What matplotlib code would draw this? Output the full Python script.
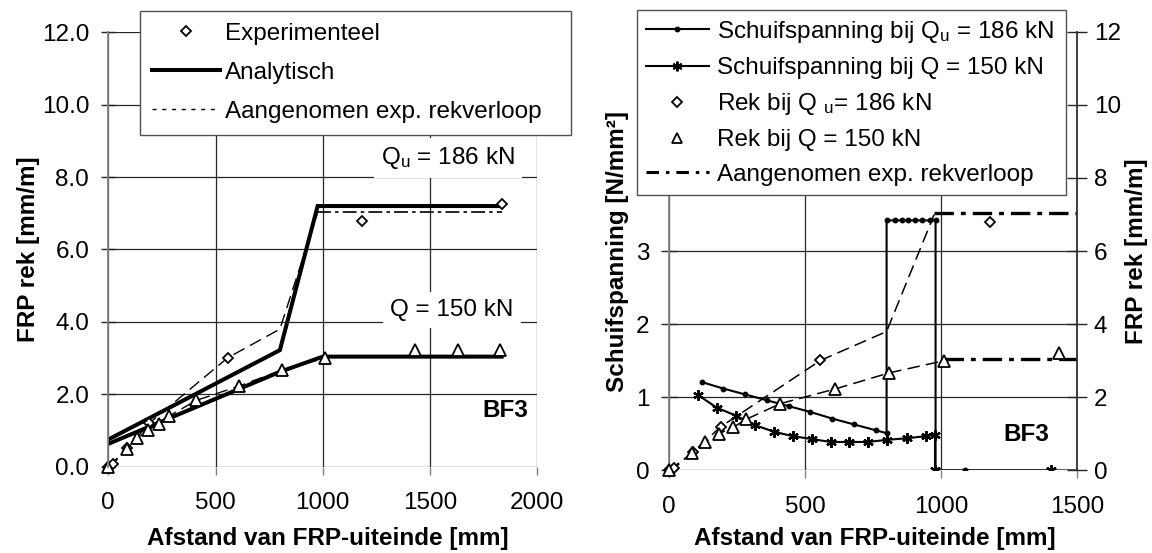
import matplotlib
matplotlib.use('Agg')
import matplotlib.pyplot as plt
from matplotlib.lines import Line2D
import numpy as np

plt.rcParams['font.family'] = ['Liberation Sans', 'DejaVu Sans']
plt.rcParams['mathtext.fontset'] = 'custom'
plt.rcParams['mathtext.rm'] = 'Liberation Sans'
plt.rcParams['mathtext.it'] = 'Liberation Sans:italic'
plt.rcParams['font.size'] = 17.5
plt.rcParams['lines.scale_dashes'] = False

# experimental strain (mm/m) vs distance from FRP end (mm)
x_exp_qu = [0, 20, 89, 191, 557, 1181, 1834]
y_exp_qu = [0.0, 0.07, 0.51, 1.2, 3.01, 6.8, 7.26]
x_exp_q = [0, 85, 133, 184, 236, 284, 410, 611, 810, 1010, 1432, 1632, 1826]
y_exp_q = [0.0, 0.48, 0.78, 1.01, 1.18, 1.4, 1.83, 2.23, 2.67, 3.0, 3.22, 3.22, 3.22]

# analytical strain
x_ana_qu = [0, 800, 976, 1834]
y_ana_qu = [0.75, 3.22, 7.2, 7.2]
x_ana_q = [0, 800, 1000, 1834]
y_ana_q = [0.63, 2.62, 3.04, 3.04]

# assumed experimental strain course
x_aang_qu = [0, 20, 89, 191, 557, 800, 975]
y_aang_qu = [0.0, 0.07, 0.51, 1.2, 3.01, 3.8, 7.0]
x_aang_qu_flat = [975, 1834]
y_aang_qu_flat = [7.03, 7.03]
x_aang_q = [0, 85, 133, 184, 236, 284, 410, 611, 810, 1010]
y_aang_q = [0.0, 0.48, 0.78, 1.01, 1.18, 1.4, 1.83, 2.23, 2.67, 3.0]
x_aang_q_flat = [1010, 1834]
y_aang_q_flat = [3.06, 3.06]

# shear stress (N/mm2)
x_tau_qu = [120, 200, 280, 360, 440, 520, 600, 680, 760, 800,
            800, 830, 855, 880, 905, 930, 958, 980, 980, 1090, 1700]
y_tau_qu = [1.21, 1.12, 1.04, 0.96, 0.88, 0.80, 0.71, 0.63, 0.55, 0.51,
            3.42, 3.42, 3.42, 3.42, 3.42, 3.42, 3.42, 3.42, 0.0, 0.0, 0.0]
x_tau_q = [108, 175, 246, 316, 386, 455, 525, 594, 663, 733, 803, 874, 945, 978, 978, 1403]
y_tau_q = [1.03, 0.86, 0.75, 0.62, 0.53, 0.47, 0.43, 0.39, 0.39, 0.39, 0.42, 0.44, 0.47, 0.49, 0.0, 0.0]

left_yticks = [0, 2, 4, 6, 8, 10, 12]
left_xticks = [0, 500, 1000, 1500, 2000]
right_xticks = [0, 500, 1000, 1500]
tau_ticks = [0, 1, 2, 3]
rek_ticks = [0, 2, 4, 6, 8, 10, 12]

grid_c = '#262626'
spine_c = '#808080'
thin_dash = (0, (9, 4.5))
flat_dash = (0, (10, 3, 2.5, 3))
thick_dashdot = (0, (14, 5, 3.5, 5))

fig = plt.figure(figsize=(11.52, 5.53), dpi=100)

# ---------------- left panel ----------------
ax1 = fig.add_axes([0.0940, 0.1561, 0.3724, 0.7855])
ax1.set_xlim(0, 2000)
ax1.set_ylim(0, 12)
ax1.set_xticks(left_xticks)
ax1.set_yticks(left_yticks)
ax1.set_yticklabels(['%.1f' % v for v in left_yticks])
ax1.grid(True, color=grid_c, lw=0.9)
ax1.set_axisbelow(True)
for s in ['top', 'right', 'bottom']:
    ax1.spines[s].set_visible(False)
ax1.spines['left'].set_color(spine_c)
ax1.spines['left'].set_linewidth(1.3)
ax1.tick_params(axis='y', direction='inout', length=9.5, width=1, color=grid_c, pad=9)
ax1.tick_params(axis='x', direction='out', length=5.5, width=1, color=spine_c, pad=13)

ax1.plot(x_aang_qu, y_aang_qu, color='k', lw=1.0, ls=thin_dash)
ax1.plot(x_aang_q, y_aang_q, color='k', lw=1.0, ls=thin_dash)
ax1.plot(x_aang_qu_flat, y_aang_qu_flat, color='k', lw=1.2, ls=flat_dash)
ax1.plot(x_aang_q_flat, y_aang_q_flat, color='k', lw=1.2, ls=flat_dash)
ax1.plot(x_ana_qu, y_ana_qu, color='k', lw=2.9, solid_joinstyle='miter')
ax1.plot(x_ana_q, y_ana_q, color='k', lw=2.9, solid_joinstyle='miter')
ax1.plot(x_exp_qu, y_exp_qu, ls='none', marker='D', ms=5.5, mfc='white', mec='k', mew=1.3, clip_on=False)
ax1.plot(x_exp_q, y_exp_q, ls='none', marker='^', ms=9, mfc='white', mec='k', mew=1.3, clip_on=False)

box = dict(facecolor='white', edgecolor='none', pad=5)
ax1.text(1584, 8.53, 'Q$_\\mathrm{u}$ = 186 kN', ha='center', va='center', bbox=box)
ax1.text(1603, 4.33, 'Q = 150 kN', ha='center', va='center', bbox=box)
ax1.text(1853, 1.54, 'BF3', ha='center', va='center', fontweight='bold')

ax1.set_xlabel('Afstand van FRP-uiteinde [mm]', fontweight='bold')
ax1.set_ylabel('FRP rek [mm/m]', fontweight='bold')
ax1.xaxis.set_label_coords(0.512, -0.139)
ax1.yaxis.set_label_coords(-0.159, 0.5)

h1 = [Line2D([], [], ls='none', marker='D', ms=5, mfc='white', mec='k', mew=1.3),
      Line2D([], [], color='k', lw=2.9),
      Line2D([], [], color='k', lw=1.0, ls=(0, (3, 4)))]
lab1 = ['Experimenteel', 'Analytisch', 'Aangenomen exp. rekverloop']
leg1 = ax1.legend(h1, lab1, loc='upper left', bbox_to_anchor=(0.1215, 0.765, 0.3742, 0.2157),
                  bbox_transform=fig.transFigure, mode='expand', borderaxespad=0,
                  fancybox=False, framealpha=1, edgecolor='#505050', handlelength=2.8,
                  handletextpad=0.2, labelspacing=0.7, borderpad=0.5)
leg1.get_frame().set_linewidth(1.0)
leg1.set_zorder(10)

# ---------------- right panel ----------------
ax2 = fig.add_axes([0.5807, 0.1492, 0.3542, 0.7935])
ax3 = ax2.twinx()
ax2.set_xlim(0, 1500)
ax2.set_ylim(0, 6)
ax3.set_ylim(0, 12)
ax2.set_xticks(right_xticks)
ax2.set_yticks(tau_ticks)
ax3.set_yticks(rek_ticks)
ax2.grid(True, color=grid_c, lw=0.9)
ax2.set_axisbelow(True)
for a in [ax2, ax3]:
    for s in ['top', 'bottom']:
        a.spines[s].set_visible(False)
ax2.spines['right'].set_visible(False)
ax3.spines['left'].set_visible(False)
ax2.spines['left'].set_color(spine_c)
ax2.spines['left'].set_linewidth(1.3)
ax3.spines['right'].set_color('#303030')
ax3.spines['right'].set_linewidth(1.3)
ax2.tick_params(axis='y', direction='inout', length=11.5, width=1, color=grid_c, pad=8.4)
ax2.tick_params(axis='x', direction='out', length=5.5, width=1, color=spine_c, pad=13)
ax3.tick_params(axis='y', direction='inout', length=14.5, width=1, color=grid_c, pad=4.8)

ax2.plot(x_tau_qu, y_tau_qu, color='k', lw=1.5, marker='o', ms=3.2)
ax2.plot(x_tau_q, y_tau_q, color='k', lw=1.5, marker=(6, 2, 0), ms=7.5, mew=1.6)

ax3.plot(x_aang_qu, y_aang_qu, color='k', lw=1.1, ls=thin_dash)
ax3.plot(x_aang_q, y_aang_q, color='k', lw=1.1, ls=thin_dash)
ax3.plot(x_aang_qu_flat, y_aang_qu_flat, color='k', lw=2.4, ls=thick_dashdot)
ax3.plot(x_aang_q_flat, y_aang_q_flat, color='k', lw=2.4, ls=thick_dashdot)

xq = np.array(x_exp_qu)
yq = np.array(y_exp_qu)
xs = np.array(x_exp_q)
ys = np.array(y_exp_q)
mq = xq <= 1500
ms_ = xs <= 1500
ax3.plot(xq[mq], yq[mq], ls='none', marker='D', ms=5.5, mfc='white', mec='k', mew=1.3, clip_on=False)
ax3.plot(xs[ms_], ys[ms_], ls='none', marker='^', ms=9, mfc='white', mec='k', mew=1.3, clip_on=False)

ax2.text(1315, 0.49, 'BF3', ha='center', va='center', fontweight='bold')

ax2.set_xlabel('Afstand van FRP-uiteinde [mm]', fontweight='bold')
ax2.set_ylabel('Schuifspanning [N/mm²]', fontweight='bold')
ax3.set_ylabel('FRP rek [mm/m]', fontweight='bold')
ax2.xaxis.set_label_coords(0.505, -0.129)
ax2.yaxis.set_label_coords(-0.098, 0.5)
ax3.yaxis.set_label_coords(1.118, 0.5)

h2 = [Line2D([], [], color='k', lw=1.5, marker='o', ms=3.2),
      Line2D([], [], color='k', lw=1.5, marker=(6, 2, 0), ms=7, mew=1.5),
      Line2D([], [], ls='none', marker='D', ms=5, mfc='white', mec='k', mew=1.3),
      Line2D([], [], ls='none', marker='^', ms=7, mfc='white', mec='k', mew=1.3),
      Line2D([], [], color='k', lw=2.2, ls=(0, (9, 5, 2.5, 5)))]
lab2 = ['Schuifspanning bij Q$_\\mathrm{u}$ = 186 kN',
        'Schuifspanning bij Q = 150 kN',
        'Rek bij Q $_\\mathrm{u}$= 186 kN',
        'Rek bij Q = 150 kN',
        'Aangenomen exp. rekverloop']
leg2 = ax3.legend(h2, lab2, loc='upper left', bbox_to_anchor=(0.5526, 0.6546, 0.3725, 0.3274),
                  bbox_transform=fig.transFigure, mode='expand', borderaxespad=0,
                  fancybox=False, framealpha=1, edgecolor='#505050', handlelength=2.6,
                  handletextpad=0.35, labelspacing=0.5, borderpad=0.37)
leg2.get_frame().set_linewidth(1.0)
leg2.set_zorder(10)

fig.savefig('out.png', dpi=100)
